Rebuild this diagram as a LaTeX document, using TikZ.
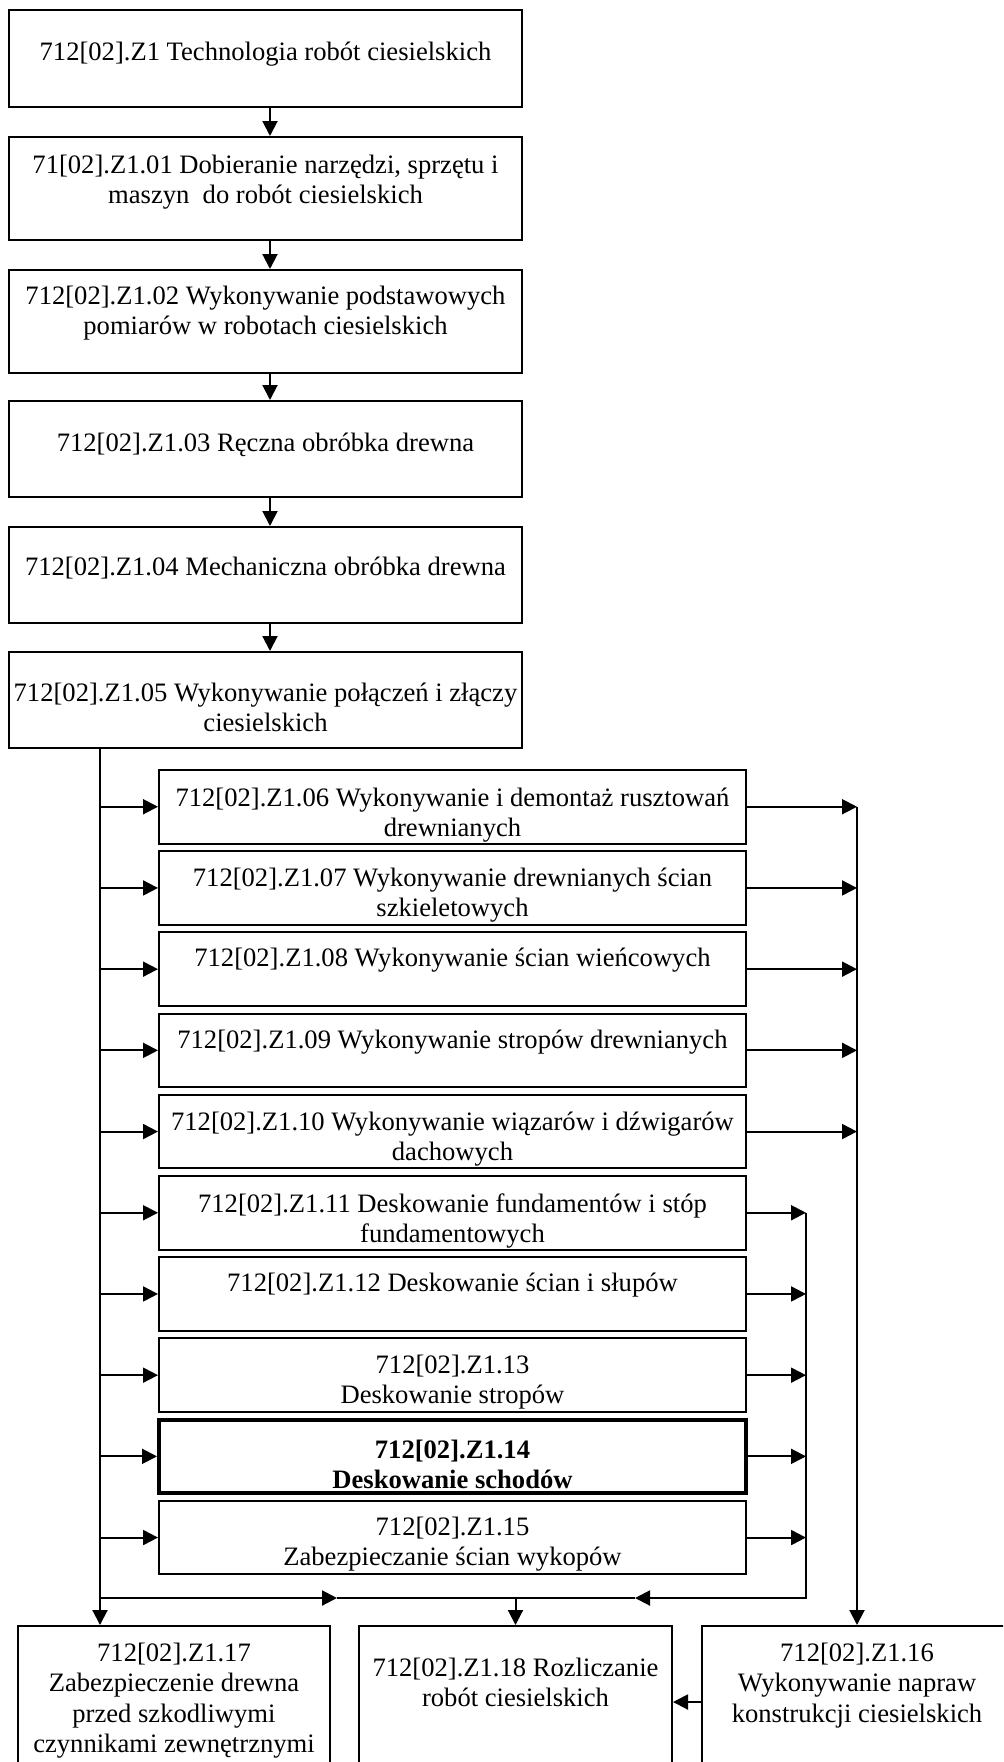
\documentclass[tikz,border=0pt]{standalone}
\usepackage{fontspec}
\setmainfont{Liberation Serif}
\usetikzlibrary{arrows.meta,fit}
\tikzset{
  box/.style={draw, line width=1pt, inner sep=0pt},
  boldbox/.style={draw, line width=2pt, inner sep=0pt},
  txt/.style={font=\fontsize{13.3}{15.2}\selectfont, align=center, inner sep=0pt, anchor=north},
  arr/.style={line width=1pt, -{Triangle[length=7.5pt,width=7.5pt]}},
  ln/.style={line width=1pt},
}
\begin{document}
\begin{tikzpicture}[x=0.5pt,y=-0.5pt]
\useasboundingbox (0,0) rectangle (1003,1762);
\fill[white] (0,0) rectangle (1003,1762);
\clip (0,0) rectangle (1003,1762);

% top column
\node[box, fit={(9,10)(522,107)}] (z1) {};
\node[box, fit={(9,137)(522,240)}] (b01) {};
\node[box, fit={(9,270)(522,373)}] (b02) {};
\node[box, fit={(9,401)(522,497)}] (b03) {};
\node[box, fit={(9,527)(522,623)}] (b04) {};
\node[box, fit={(9,652)(522,748)}] (b05) {};

\node[txt] (tz1) at (265.5,38.7) {\strut 712[02].Z1 Technologia robót ciesielskich};
\node[txt] (t01) at (265.5,151.7) {\strut 71[02].Z1.01 Dobieranie narzędzi, sprzętu i\\maszyn\ \ do robót ciesielskich};
\node[txt] (t02) at (265.5,282.7) {\strut 712[02].Z1.02 Wykonywanie podstawowych\\pomiarów w robotach ciesielskich};
\node[txt] (t03) at (265.5,429.7) {\strut 712[02].Z1.03 Ręczna obróbka drewna};
\node[txt] (t04) at (265.5,553.7) {\strut 712[02].Z1.04 Mechaniczna obróbka drewna};
\node[txt] (t05) at (265.5,679.7) {\strut 712[02].Z1.05 Wykonywanie połączeń i złączy\\ciesielskich};

% middle column
\node[box, fit={(159,770)(746,843.5)}] (b06) {};
\node[box, fit={(159,851.2)(746,924.7)}] (b07) {};
\node[box, fit={(159,932.4)(746,1005.9)}] (b08) {};
\node[box, fit={(159,1013.6)(746,1087.1)}] (b09) {};
\node[box, fit={(159,1094.8)(746,1168.3)}] (b10) {};
\node[box, fit={(159,1176)(746,1249.5)}] (b11) {};
\node[box, fit={(159,1257.2)(746,1330.7)}] (b12) {};
\node[box, fit={(159,1338.4)(746,1411.9)}] (b13) {};
\node[boldbox, fit={(159,1419.6)(746,1493.1)}] (b14) {};
\node[box, fit={(159,1500.8)(746,1574.3)}] (b15) {};

\node[txt] (t06) at (452.5,784.7) {\strut 712[02].Z1.06 Wykonywanie i demontaż rusztowań\\drewnianych};
\node[txt] (t07) at (452.5,864.7) {\strut 712[02].Z1.07 Wykonywanie drewnianych ścian\\szkieletowych};
\node[txt] (t08) at (452.5,944.7) {\strut 712[02].Z1.08 Wykonywanie ścian wieńcowych};
\node[txt] (t09) at (452.5,1026.7) {\strut 712[02].Z1.09 Wykonywanie stropów drewnianych};
\node[txt] (t10) at (452.5,1108.7) {\strut 712[02].Z1.10 Wykonywanie wiązarów i dźwigarów\\dachowych};
\node[txt] (t11) at (452.5,1190.7) {\strut 712[02].Z1.11 Deskowanie fundamentów i stóp\\fundamentowych};
\node[txt] (t12) at (452.5,1269.7) {\strut 712[02].Z1.12 Deskowanie ścian i słupów};
\node[txt] (t13) at (452.5,1351.7) {\strut 712[02].Z1.13\\Deskowanie stropów};
\node[txt, font=\fontsize{13.3}{15.2}\selectfont\bfseries] (t14) at (452.5,1436.7) {\strut 712[02].Z1.14\\Deskowanie schodów};
\node[txt] (t15) at (452.5,1513.7) {\strut 712[02].Z1.15\\Zabezpieczanie ścian wykopów};

% bottom row
\node[box, fit={(18,1626)(330,1790)}] (b17) {};
\node[box, fit={(359,1626)(672,1790)}] (b18) {};
\node[box, fit={(702,1626)(1012,1790)}] (b16) {};

\node[txt] (t17) at (174,1639.7) {\strut 712[02].Z1.17\\Zabezpieczenie drewna\\przed szkodliwymi\\czynnikami zewnętrznymi};
\node[txt] (t18) at (515.5,1654.7) {\strut 712[02].Z1.18 Rozliczanie\\robót ciesielskich};
\node[txt] (t16) at (857,1639.7) {\strut 712[02].Z1.16\\Wykonywanie napraw\\konstrukcji ciesielskich};

% helper coordinates
\coordinate (A) at (270,0);
\coordinate (L) at (100,0);
\coordinate (R1) at (857,0);
\coordinate (R2) at (806,0);
\coordinate (H) at (0,1598);
\coordinate (M1) at (337,1598);
\coordinate (M2) at (635,1598);
\coordinate (Y) at (0,1702);

% top chain
\draw[arr] (z1.south -| A) -- (b01.north -| A);
\draw[arr] (b01.south -| A) -- (b02.north -| A);
\draw[arr] (b02.south -| A) -- (b03.north -| A);
\draw[arr] (b03.south -| A) -- (b04.north -| A);
\draw[arr] (b04.south -| A) -- (b05.north -| A);

% left trunk
\draw[arr] (b05.south -| L) -- (b17.north -| L);
\foreach \b in {b06,b07,b08,b09,b10,b11,b12,b13,b14,b15}
  \draw[arr] (L |- \b.west) -- (\b.west);

% right collectors
\foreach \b in {b06,b07,b08,b09,b10}
  \draw[arr] (\b.east) -- (R1 |- \b.east);
\foreach \b in {b11,b12,b13,b14,b15}
  \draw[arr] (\b.east) -- (R2 |- \b.east);
\draw[arr] (R1 |- b06.east) -- (b16.north -| R1);

% joining line
\draw[arr] (L |- H) -- (M1);
\draw[ln] (M1) -- (b18.north |- H);
\draw[arr] (R2 |- b11.east) -- (R2 |- H) -- (M2);
\draw[ln] (M2) -- (b18.north |- H);
\draw[arr] (b18.north |- H) -- (b18.north);
\draw[arr] (b16.west |- Y) -- (b18.east |- Y);
\end{tikzpicture}
\end{document}
